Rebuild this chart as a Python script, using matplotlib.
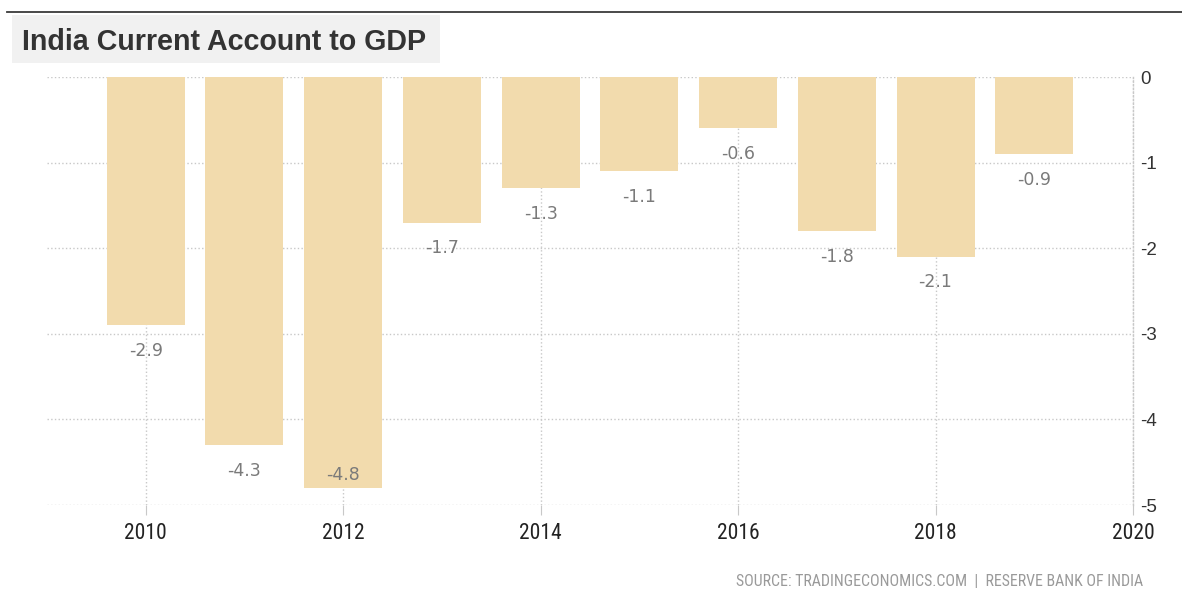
import matplotlib
matplotlib.use("Agg")
import matplotlib.pyplot as plt
from matplotlib import font_manager as fm
from matplotlib.patches import Rectangle
from matplotlib.lines import Line2D

# India current account balance as % of GDP
years = [2010, 2011, 2012, 2013, 2014, 2015, 2016, 2017, 2018, 2019]
values = [-2.9, -4.3, -4.8, -1.7, -1.3, -1.1, -0.6, -1.8, -2.1, -0.9]
xticks = [2010, 2012, 2014, 2016, 2018, 2020]
yticks = [0, -1, -2, -3, -4, -5]

bar_color = "#f2dbad"
grid_color = "#c8c8c8"


def pick_family(candidates):
    for name in candidates:
        try:
            fm.findfont(fm.FontProperties(family=name), fallback_to_default=False)
            return name
        except Exception:
            continue
    return None


narrow = pick_family(["Liberation Sans Narrow", "DejaVu Sans Condensed",
                      "Roboto Condensed", "Open Sans Condensed", "Arial Narrow"])
if narrow:
    tick_family, tick_size = narrow, 15.5
    src_family, src_size = narrow, 11.4
else:
    tick_family, tick_size = "Liberation Sans", 14
    src_family, src_size = "Liberation Sans", 9.4

fig = plt.figure(figsize=(11.82, 6.04), dpi=100)
fig.patch.set_facecolor("white")

ax = fig.add_axes([0.0398, 0.1639, 0.9187, 0.7086])
ax.set_facecolor("white")

ax.bar(years, values, width=0.79, color=bar_color, zorder=2)

ymin = -5
for x, v in zip(years, values):
    if v < ymin + 0.5:
        # no room below the bar end: keep the label inside the bar
        offset, va = (0, 3), "bottom"
    else:
        offset, va = (0, -12), "top"
    ax.annotate(f"{v:.1f}", xy=(x, v), xytext=offset, textcoords="offset points",
                ha="center", va=va, fontsize=12.5, color="#7a7a7a",
                family="DejaVu Sans", zorder=3)

ax.set_xlim(2009, 2020)
ax.set_ylim(ymin, 0)

ax.set_xticks(xticks)
ax.set_xticklabels([str(t) for t in xticks], family=tick_family,
                   fontsize=tick_size, color="#222222")
ax.yaxis.tick_right()
ax.set_yticks(yticks)
ax.set_yticklabels([str(t) for t in yticks], family="Liberation Sans",
                   fontsize=13.5, color="#333333")
ax.tick_params(axis="x", length=7, color=grid_color, pad=6)
ax.tick_params(axis="y", length=0, pad=5)

ax.grid(True, linestyle=":", color=grid_color, linewidth=1, zorder=0)
ax.set_axisbelow(True)
for side in ["top", "bottom", "left"]:
    ax.spines[side].set_visible(False)
ax.spines["right"].set_linestyle(":")
ax.spines["right"].set_color(grid_color)
ax.spines["right"].set_linewidth(1)

# Header rule and title box
fig.add_artist(Line2D([7 / 1182, 1.0], [1 - 12 / 604, 1 - 12 / 604],
                      color="#3a3a3a", linewidth=1.3))
fig.add_artist(Rectangle((12 / 1182, 1 - 63 / 604), 428 / 1182, 48 / 604,
                         facecolor="#f1f1f1", edgecolor="none", zorder=0))
fig.text(22 / 1182, 1 - 42 / 604, "India Current Account to GDP",
         family="Liberation Sans", fontweight="bold", fontsize=20.6,
         color="#333333", va="center", ha="left")

fig.text(1143 / 1182, 1 - 582 / 604,
         "SOURCE: TRADINGECONOMICS.COM  |  RESERVE BANK OF INDIA",
         family=src_family, fontsize=src_size, color="#9a9a9a",
         ha="right", va="center")

fig.savefig("out.png", dpi=100, facecolor="white")
